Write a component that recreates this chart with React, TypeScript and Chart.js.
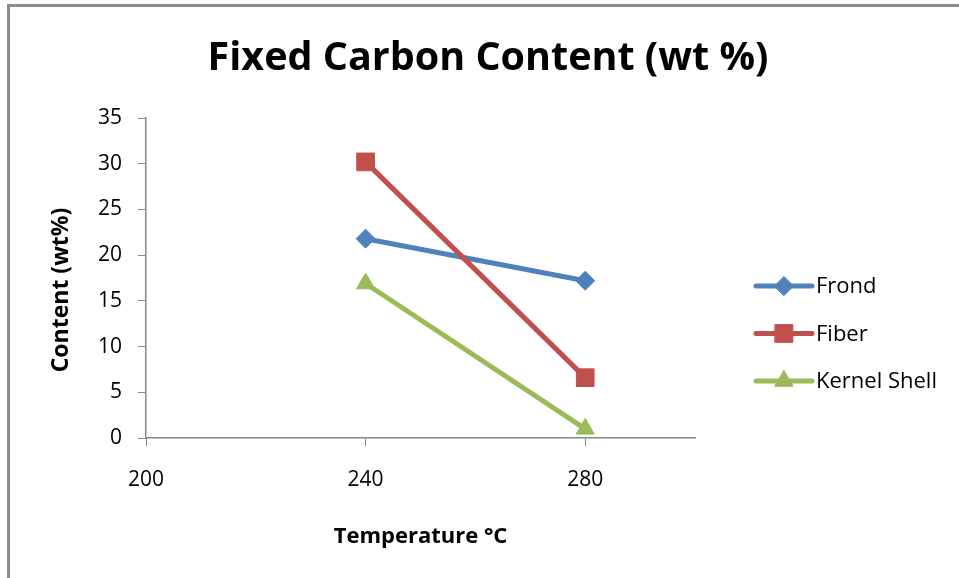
import React, { useEffect, useRef } from 'react';
import { Chart, registerables } from 'chart.js';
import { drawPoint } from 'chart.js/helpers';

Chart.register(...registerables);

const chartTitle = 'Fixed Carbon Content (wt %)';
const xAxisTitle = 'Temperature °C';
const yAxisTitle = 'Content (wt%)';

const temperatures = [240, 280];
const frond = [21.8, 17.2];
const fiber = [30.2, 6.6];
const kernelShell = [16.9, 1.0];
const seriesNames = ['Frond', 'Fiber', 'Kernel Shell'];
const seriesColors = ['#4F81BD', '#C0504D', '#9BBB59'];
const seriesMarkers = ['rectRot', 'rect', 'triangle'];
const markerRadius = [9.5, 12.5, 10.5];

const xTicks = [200, 240, 280];
const yTicks = [0, 5, 10, 15, 20, 25, 30, 35];

const FONT = '"Open Sans", Lato, sans-serif';
const AXIS_COLOR = '#868686';

const overlay = {
  id: 'overlay',
  afterDraw(chart: any) {
    const ctx = chart.ctx as CanvasRenderingContext2D;
    const a = chart.chartArea;
    ctx.save();
    ctx.fillStyle = '#000';
    ctx.textAlign = 'center';
    ctx.textBaseline = 'alphabetic';
    ctx.font = `bold 39.5px ${FONT}`;
    ctx.fillText(chartTitle, 488, 70);

    ctx.font = `bold 22px ${FONT}`;
    ctx.fillText(xAxisTitle, (a.left + a.right) / 2, 543);

    ctx.save();
    ctx.translate(61, 290);
    ctx.rotate(-Math.PI / 2);
    ctx.textBaseline = 'middle';
    ctx.font = `bold 23px ${FONT}`;
    ctx.fillText(yAxisTitle, 0, 0);
    ctx.restore();

    // legend
    const x0 = a.right + 61;
    const x1 = a.right + 117;
    chart.data.datasets.forEach((ds: any, i: number) => {
      const y = 286 + i * 47.5;
      ctx.strokeStyle = ds.borderColor;
      ctx.lineWidth = 5;
      ctx.lineCap = 'round';
      ctx.beginPath();
      ctx.moveTo(x0, y);
      ctx.lineTo(x1, y);
      ctx.stroke();
      ctx.fillStyle = ds.borderColor;
      ctx.lineWidth = 1;
      drawPoint(ctx, { pointStyle: ds.pointStyle, radius: ds.pointRadius, rotation: 0, borderWidth: 1 } as any, (x0 + x1) / 2, y);
      ctx.fillStyle = '#000';
      ctx.font = `22px ${FONT}`;
      ctx.textAlign = 'left';
      ctx.textBaseline = 'middle';
      ctx.fillText(ds.label, x1 + 4, y + 1);
    });
    ctx.restore();
  },
};

export default function App() {
  const ref = useRef<HTMLCanvasElement>(null);
  useEffect(() => {
    if (!ref.current) return;
    const series = [frond, fiber, kernelShell];
    const chart = new Chart(ref.current, {
      type: 'line',
      data: {
        datasets: series.map((vals, i) => ({
          label: seriesNames[i],
          data: vals.map((v, j) => ({ x: temperatures[j], y: v })),
          borderColor: seriesColors[i],
          backgroundColor: seriesColors[i],
          pointBackgroundColor: seriesColors[i],
          pointBorderColor: seriesColors[i],
          pointStyle: seriesMarkers[i] as any,
          pointRadius: markerRadius[i],
          pointBorderWidth: 1,
          borderWidth: 5,
          order: 3 - i,
          tension: 0,
        })),
      },
      options: {
        animation: false,
        responsive: false,
        layout: { padding: { left: 0, top: 118, right: 264, bottom: 0 } },
        plugins: { legend: { display: false }, tooltip: { enabled: false }, title: { display: false } },
        scales: {
          x: {
            type: 'linear',
            min: 200,
            max: 300,
            afterBuildTicks: (s: any) => { s.ticks = xTicks.map((v) => ({ value: v })); },
            afterFit: (s: any) => { s.height = 578 - 438; },
            grid: { drawOnChartArea: false, drawTicks: true, tickLength: 8, color: AXIS_COLOR, lineWidth: 1 },
            border: { display: true, color: AXIS_COLOR, width: 1.5 },
            ticks: { padding: 21, color: '#000', font: { family: FONT, size: 21 }, maxRotation: 0 },
          },
          y: {
            type: 'linear',
            min: 0,
            max: 35,
            afterBuildTicks: (s: any) => { s.ticks = yTicks.map((v) => ({ value: v })); },
            afterFit: (s: any) => { s.width = 146; },
            grid: { drawOnChartArea: false, drawTicks: true, tickLength: 8, color: AXIS_COLOR, lineWidth: 1 },
            border: { display: true, color: AXIS_COLOR, width: 1.5 },
            ticks: { padding: 16, color: '#000', font: { family: FONT, size: 21 } },
          },
        },
      },
      plugins: [overlay],
    });
    return () => chart.destroy();
  }, []);
  return (
    <div style={{ position: 'absolute', left: 0, top: 0, width: 959, height: 578, overflow: 'hidden', background: '#fff' }}>
      <div style={{ position: 'absolute', left: 7, top: 4, width: 1200, height: 1000, border: '3px solid #8c8c8c' }} />
      <canvas ref={ref} width={959} height={578} style={{ position: 'absolute', left: 0, top: 0 }} />
    </div>
  );
}
